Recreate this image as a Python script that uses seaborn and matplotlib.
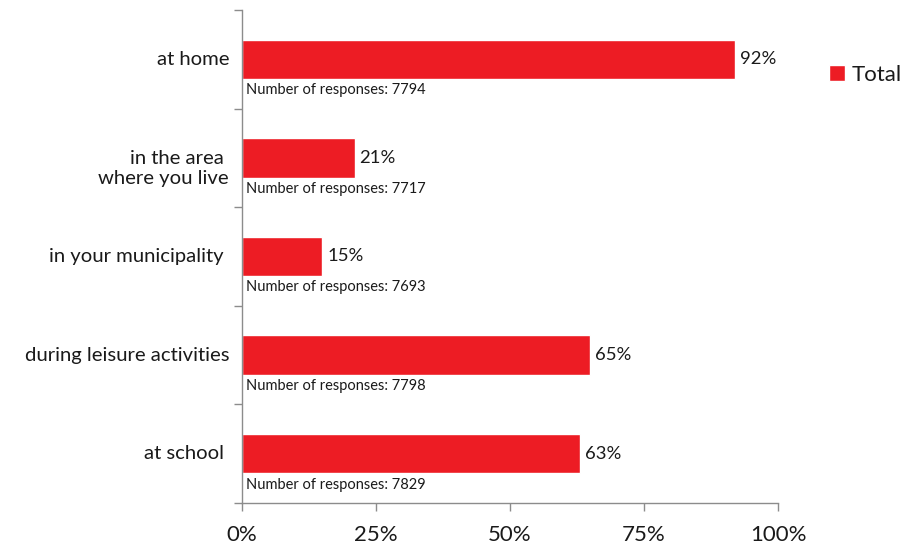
import matplotlib
matplotlib.use("Agg")
import matplotlib.pyplot as plt
import seaborn as sns
import pandas as pd

categories = ["at home", "in the area \nwhere you live", "in your municipality ",
              "during leisure activities", "at school "]
values = [92, 21, 15, 65, 63]
responses = [7794, 7717, 7693, 7798, 7829]
series_name = "Total"
x_ticks = [0, 25, 50, 75, 100]

df = pd.DataFrame({"place": categories, "pct": values, "series": series_name})

sns.set_theme(style="white")
plt.rcParams["font.family"] = ["Lato", "DejaVu Sans"]

RED = "#ED1C24"
GRAY = "#8C8C8C"
TXT = "#1A1A1A"

fig = plt.figure(figsize=(9.16, 5.45), dpi=100)
ax = fig.add_axes([0.2642, 0.0771, 0.8493 - 0.2642, 0.9817 - 0.0771])

sns.barplot(data=df, x="pct", y="place", hue="series", palette=[RED],
            orient="h", width=0.4, ax=ax, saturation=1, legend=True)

ax.set_xlim(0, 100)
ax.set_ylim(len(categories) - 0.5, -0.5)
ax.set_xlabel("")
ax.set_ylabel("")

# x axis: percentage ticks pointing down
ax.set_xticks(x_ticks)
ax.set_xticklabels([f"{t}%" for t in x_ticks], fontsize=16, color=TXT)
ax.tick_params(axis="x", direction="out", length=6, width=1, color=GRAY, pad=10,
               bottom=True)

# y axis: ticks at category boundaries, labels drawn beside each bar
n = len(categories)
ax.set_yticks([i - 0.5 for i in range(n + 1)])
ax.set_yticklabels([""] * (n + 1))
ax.tick_params(axis="y", which="major", direction="out", length=6, width=1,
               color=GRAY, left=True)

for i, cat in enumerate(categories):
    lines = cat.count("\n")
    ax.annotate(cat, xy=(0, i), xycoords=ax.get_yaxis_transform(),
                xytext=(-13, -10.5 * lines), textcoords="offset pixels",
                ha="right", va="center", multialignment="right",
                fontsize=14.6, color=TXT, linespacing=1.2)

for s in ["top", "right"]:
    ax.spines[s].set_visible(False)
for s in ["left", "bottom"]:
    ax.spines[s].set_color(GRAY)
    ax.spines[s].set_linewidth(1)

# value labels and response counts
for i, (v, r) in enumerate(zip(values, responses)):
    ax.annotate(f"{v}%", xy=(v, i), xytext=(5, 0), textcoords="offset pixels",
                va="center", ha="left", fontsize=13.3, color=TXT)
    ax.annotate(f"Number of responses: {r}", xy=(0, i), xytext=(4, -31),
                textcoords="offset pixels", va="center", ha="left",
                fontsize=10.5, color=TXT)

leg = ax.legend(loc="center left", bbox_to_anchor=(1.079, 0.868), frameon=False,
                fontsize=16, handlelength=0.7, handleheight=0.7,
                handletextpad=0.3, borderaxespad=0)
for t in leg.get_texts():
    t.set_color(TXT)

fig.savefig("out.png", dpi=100)
